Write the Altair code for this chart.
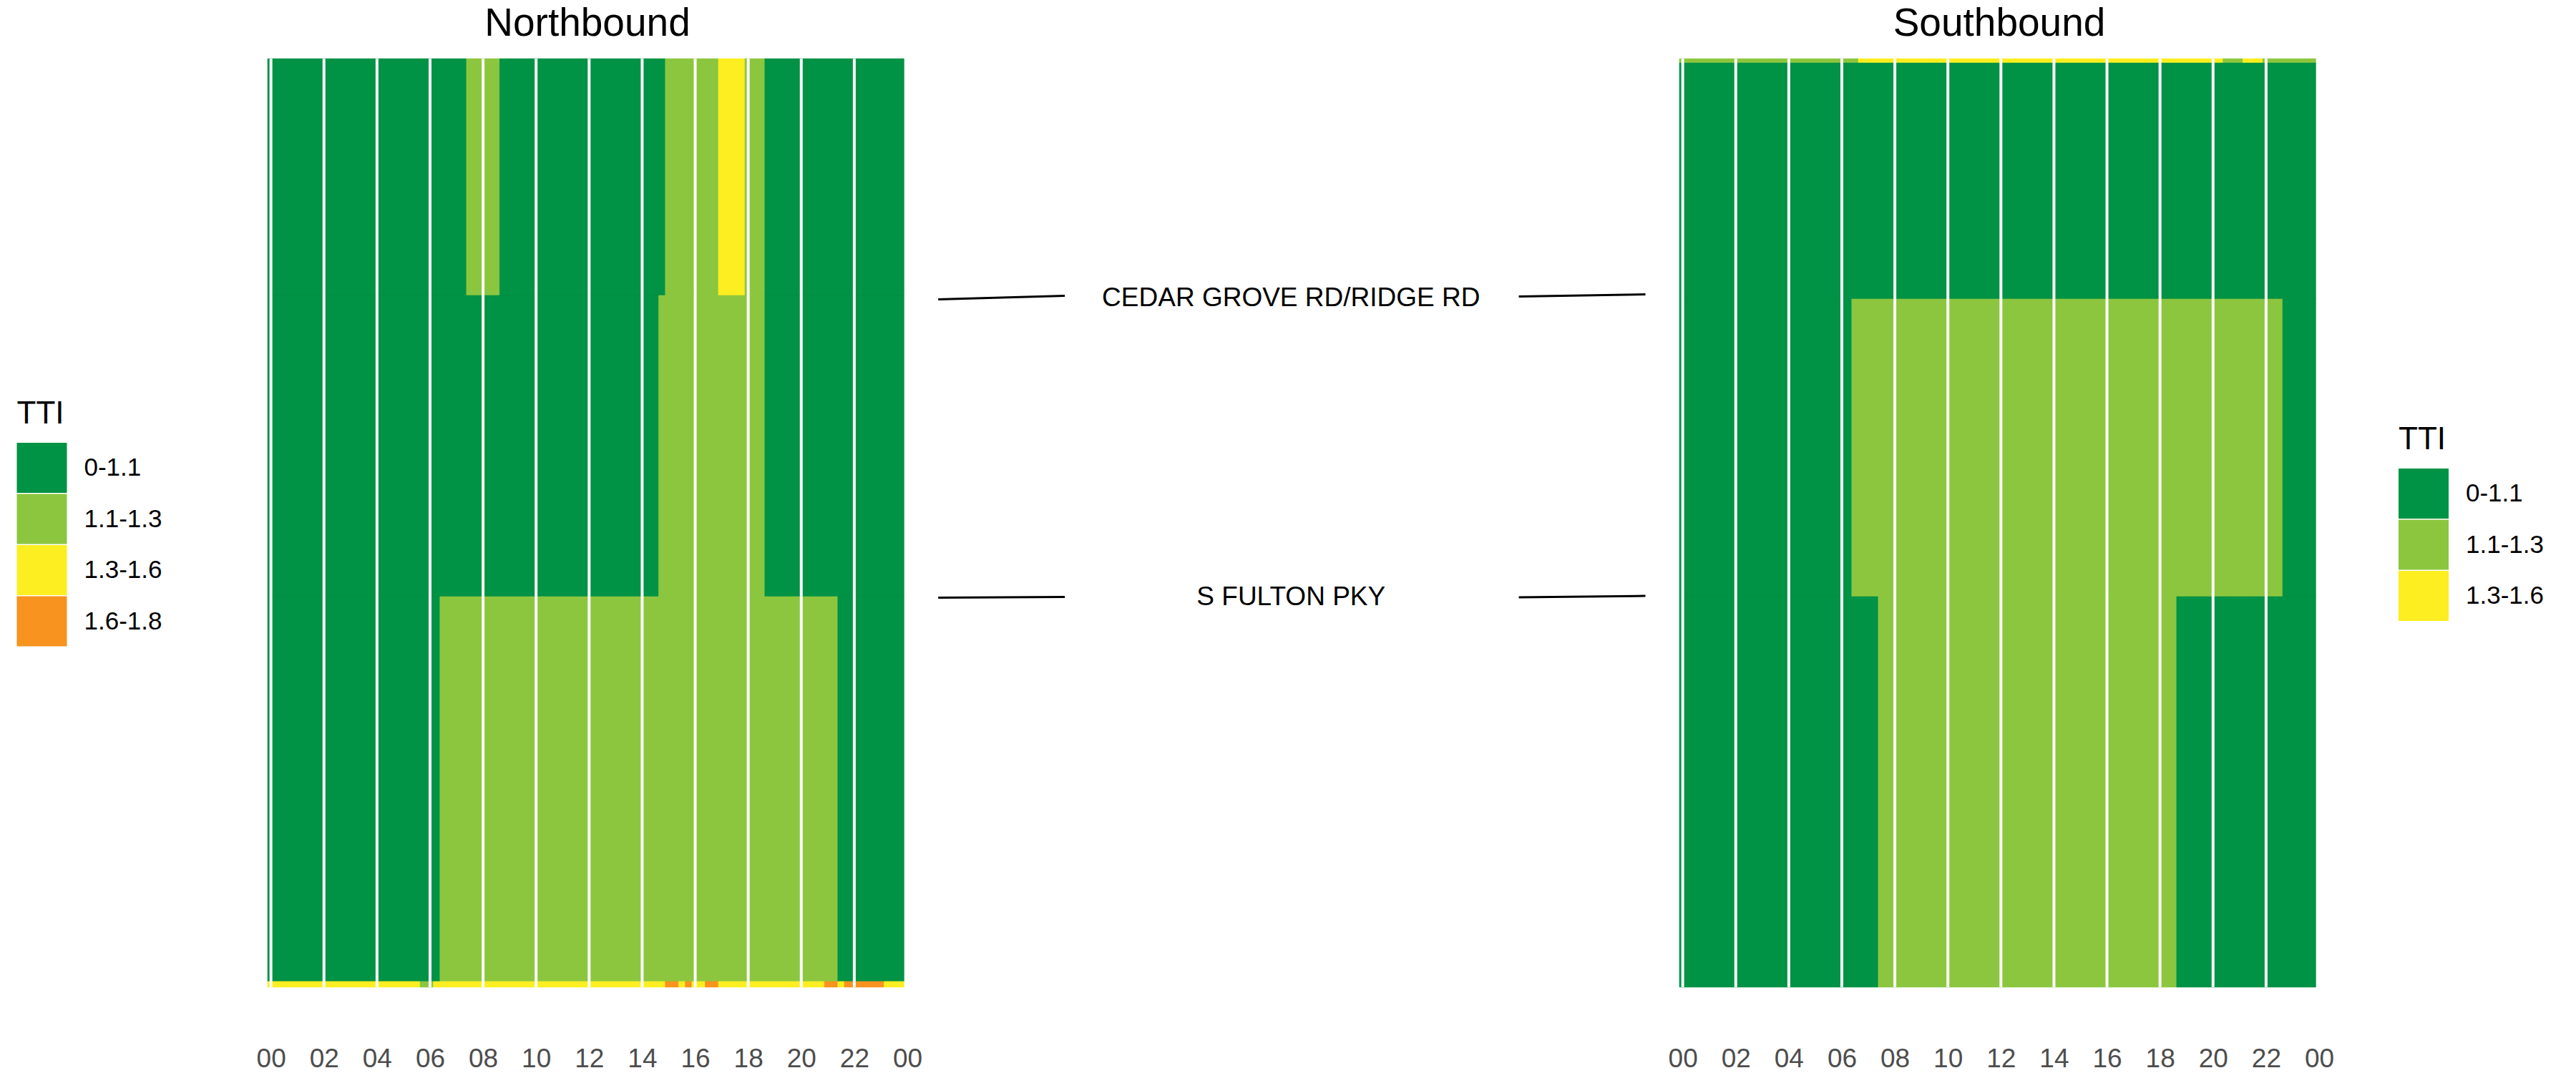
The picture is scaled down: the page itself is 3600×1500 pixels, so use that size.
import altair as alt
import pandas as pd

FONT = "Liberation Sans"

# TTI classes and colours
CLASSES = ["0-1.1", "1.1-1.3", "1.3-1.6", "1.6-1.8"]
COLORS = ["#009245", "#8CC63F", "#FCEE21", "#F7931E"]
CODE = {"G": "0-1.1", "L": "1.1-1.3", "Y": "1.3-1.6", "O": "1.6-1.8"}

# 15-minute bins, one character per bin, grouped by hour (00 .. 23)
NB_TOP = ("GGGG GGGG GGGG GGGG GGGG GGGG GGGG GGLL LLLG GGGG GGGG GGGG "
          "GGGG GGGG GGGG LLLL LLLL YYYY LLLG GGGG GGGG GGGG GGGG GGGG")
NB_MID = ("GGGG GGGG GGGG GGGG GGGG GGGG GGGG GGGG GGGG GGGG GGGG GGGG "
          "GGGG GGGG GGGL LLLL LLLL LLLL LLLG GGGG GGGG GGGG GGGG GGGG")
NB_BOT = ("GGGG GGGG GGGG GGGG GGGG GGGG GGLL LLLL LLLL LLLL LLLL LLLL "
          "LLLL LLLL LLLL LLLL LLLL LLLL LLLL LLLL LLLL LLGG GGGG GGGG")
NB_STRIP = ("YYYY YYYY YYYY YYYY YYYY YYYL LYYY YYYY YYYY YYYY YYYY YYYY "
            "YYYY YYYY YYYY OOYO YYOO YYYY YYYY YYYY YYYY OOYO OOOO OYYY")
SB_STRIP = ("LLLL LLLL LLLL LLLL LLLL LLLL LLLY YYYY YYYY YYYY YYYY YYYY "
            "YYYY YYYY YYYY YYYY YYYY YYYY YYYY YYYY YYLL LYYY LLLL LLLL")
SB_TOP = ("GGGG GGGG GGGG GGGG GGGG GGGG GGGG GGGG GGGG GGGG GGGG GGGG "
          "GGGG GGGG GGGG GGGG GGGG GGGG GGGG GGGG GGGG GGGG GGGG GGGG")
SB_MID = ("GGGG GGGG GGGG GGGG GGGG GGGG GGLL LLLL LLLL LLLL LLLL LLLL "
          "LLLL LLLL LLLL LLLL LLLL LLLL LLLL LLLL LLLL LLLL LLLG GGGG")
SB_BOT = ("GGGG GGGG GGGG GGGG GGGG GGGG GGGG GGLL LLLL LLLL LLLL LLLL "
          "LLLL LLLL LLLL LLLL LLLL LLLL LLLG GGGG GGGG GGGG GGGG GGGG")

# segment boundaries along the corridor (miles from the north end)
NB_BOUNDS = [0.0, 0.662, 1.504, 2.580, 2.596]
SB_BOUNDS = [0.0, 0.012, 0.672, 1.504, 2.596]
NB_ROWS = [NB_TOP, NB_MID, NB_BOT, NB_STRIP]
SB_ROWS = [SB_STRIP, SB_TOP, SB_MID, SB_BOT]
LENGTH = 2.596

HOUR_TICKS = [0, 2, 4, 6, 8, 10, 12, 14, 16, 18, 20, 22, 24]
HOUR_LINES = [0, 2, 4, 6, 8, 10, 12, 14, 16, 18, 20, 22]
BIN = 0.25

# cross-street labels between the panels
LABELS = ["CEDAR GROVE RD/RIDGE RD", "S FULTON PKY"]
LABEL_POS = [0.669, 1.506]
LEADER_X0 = [0.040, 0.792, 0.040, 0.792]
LEADER_X1 = [0.204, 0.956, 0.204, 0.956]
LEADER_Y0 = [0.673, 0.665, 1.507, 1.506]
LEADER_Y1 = [0.663, 0.659, 1.505, 1.502]


def runs(rows, bounds):
    out = []
    for k, code in enumerate(rows):
        s = code.replace(" ", "")
        start = 0
        for i in range(1, len(s) + 1):
            if i == len(s) or s[i] != s[start]:
                out.append(dict(t0=start * BIN - BIN / 2, t1=i * BIN - BIN / 2,
                                d0=bounds[k], d1=bounds[k + 1], TTI=CODE[s[start]]))
                start = i
    return pd.DataFrame(out)


def panel(rows, bounds, title, ncls, legend):
    df = runs(rows, bounds)
    xsc = alt.Scale(domain=[-0.125, 24], nice=False, zero=False)
    ysc = alt.Scale(domain=[0, LENGTH], reverse=True, nice=False, zero=False)
    cscale = alt.Scale(domain=CLASSES[:ncls], range=COLORS[:ncls])
    rects = alt.Chart(df).mark_rect(strokeWidth=0.6).encode(
        x=alt.X("t0:Q", scale=xsc, title=None,
                axis=alt.Axis(values=HOUR_TICKS,
                              labelExpr="(datum.value % 24 < 10 ? '0' : '') + (datum.value % 24)",
                              labelFontSize=37, labelFont=FONT, labelColor="#4d4d4d",
                              labelPadding=82, ticks=False, domain=False, grid=False,
                              labelFlush=False, labelOverlap=False, labelBound=False)),
        x2="t1:Q",
        y=alt.Y("d0:Q", scale=ysc, axis=None),
        y2="d1:Q",
        color=alt.Color("TTI:N", scale=cscale, sort=CLASSES[:ncls], legend=legend),
        stroke=alt.Stroke("TTI:N", scale=cscale, legend=None),
    )
    lines = alt.Chart(pd.DataFrame({"h": HOUR_LINES})).mark_rule(
        color="white", strokeWidth=4).encode(x=alt.X("h:Q", scale=xsc))
    return alt.layer(rects, lines).properties(
        width=894, height=1298,
        title=alt.TitleParams(title, fontSize=55, font=FONT, fontWeight="normal",
                              color="black", anchor="middle", baseline="alphabetic",
                              offset=-25),
    )


def make_legend(x, y):
    return alt.Legend(orient="none", legendX=x, legendY=y, title="TTI",
                      titleFontSize=44, titleFont=FONT, titleFontWeight="normal",
                      titleColor="black", titlePadding=18, titleAnchor="start",
                      labelFontSize=35, labelFont=FONT, labelColor="black",
                      labelOffset=24, symbolType="square", symbolSize=4900,
                      symbolStrokeWidth=0, symbolOpacity=1, rowPadding=1.5,
                      padding=0)


nb = panel(NB_ROWS, NB_BOUNDS, "Northbound", 4, make_legend(-350.5, 475))
sb = panel(SB_ROWS, SB_BOUNDS, "Southbound", 3, make_legend(1005, 511))

ysc_mid = alt.Scale(domain=[0, LENGTH], reverse=True, nice=False, zero=False)
xsc_mid = alt.Scale(domain=[0, 1], nice=False, zero=False)
lab_df = pd.DataFrame({"label": LABELS, "y": LABEL_POS, "x": [0.497, 0.497]})
lead_df = pd.DataFrame({"x0": LEADER_X0, "x1": LEADER_X1, "y0": LEADER_Y0, "y1": LEADER_Y1})
mid_text = alt.Chart(lab_df).mark_text(fontSize=37, font=FONT, color="black",
                                       align="center", baseline="middle").encode(
    x=alt.X("x:Q", scale=xsc_mid, axis=None),
    y=alt.Y("y:Q", scale=ysc_mid, axis=None),
    text="label:N")
mid_lines = alt.Chart(lead_df).mark_rule(color="black", strokeWidth=3).encode(
    x=alt.X("x0:Q", scale=xsc_mid, axis=None), x2="x1:Q",
    y=alt.Y("y0:Q", scale=ysc_mid, axis=None), y2="y1:Q")
mid = alt.layer(mid_lines, mid_text).properties(width=1079, height=1298)

chart = alt.hconcat(nb, mid, sb, spacing=0, bounds="flush").resolve_scale(
    color="independent", stroke="independent", x="independent", y="independent"
).configure_view(stroke=None).properties(
    padding={"left": 23, "top": 6, "right": 0, "bottom": 0}, background="white")

chart.save("out.html", embed_options={"renderer": "svg", "actions": False})
